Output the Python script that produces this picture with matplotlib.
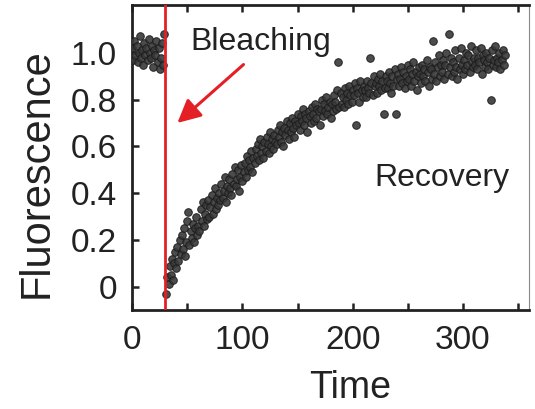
import numpy as np
import matplotlib
matplotlib.use("Agg")
import matplotlib.pyplot as plt

plt.rcParams['font.family'] = ['Liberation Sans', 'DejaVu Sans']

# pre-bleach frames, 1 s apart
prebleach_time = np.arange(0, 30)
prebleach_signal = [
    1.02, 0.97, 1.05, 0.99, 1.03, 0.96, 1.00, 1.07, 0.98, 1.01,
    0.95, 1.04, 0.99, 1.02, 0.97, 1.06, 1.00, 0.98, 1.03, 0.94,
    1.01, 0.99, 1.05, 0.96, 1.02, 0.93, 0.98, 1.04, 0.95, 1.08,
]

# recovery frames after the bleach pulse
recovery_time = np.arange(31, 339)
recovery_signal = [
    -0.03, 0.04, 0.01, 0.09, 0.05, 0.12, 0.03, 0.10, 0.15, 0.08,
    0.17, 0.11, 0.20, 0.14, 0.22, 0.16, 0.25, 0.13, 0.19, 0.28,
    0.32, 0.18, 0.24, 0.21, 0.27, 0.19, 0.25, 0.30, 0.22, 0.26,
    0.24, 0.33, 0.28, 0.36, 0.26, 0.31, 0.35, 0.29, 0.37, 0.30,
    0.34, 0.39, 0.31, 0.36, 0.42, 0.33, 0.38, 0.35, 0.40, 0.37,
    0.44, 0.38, 0.41, 0.47, 0.36, 0.43, 0.40, 0.46, 0.42, 0.39,
    0.48, 0.44, 0.51, 0.43, 0.46, 0.50, 0.41, 0.47, 0.52, 0.45,
    0.49, 0.53, 0.47, 0.56, 0.50, 0.54, 0.51, 0.58, 0.49, 0.55,
    0.53, 0.59, 0.56, 0.61, 0.54, 0.63, 0.57, 0.60, 0.55, 0.62,
    0.58, 0.64, 0.61, 0.57, 0.66, 0.60, 0.63, 0.59, 0.65, 0.62,
    0.61, 0.67, 0.64, 0.69, 0.62, 0.66, 0.60, 0.68, 0.65, 0.71,
    0.67, 0.63, 0.70, 0.66, 0.72, 0.68, 0.64, 0.71, 0.69, 0.74,
    0.70, 0.67, 0.73, 0.71, 0.76, 0.69, 0.74, 0.72, 0.66, 0.75,
    0.73, 0.70, 0.77, 0.74, 0.71, 0.78, 0.72, 0.76, 0.75, 0.69,
    0.76, 0.80, 0.73, 0.78, 0.75, 0.81, 0.74, 0.77, 0.79, 0.72,
    0.78, 0.75, 0.82, 0.79, 0.76, 0.84, 0.96, 0.77, 0.83, 0.78,
    0.81, 0.77, 0.85, 0.80, 0.83, 0.78, 0.86, 0.82, 0.79, 0.84,
    0.82, 0.87, 0.69, 0.85, 0.83, 0.79, 0.88, 0.84, 0.81, 0.86,
    0.84, 0.81, 0.88, 0.85, 0.83, 0.98, 0.87, 0.82, 0.90, 0.86,
    0.87, 0.83, 0.89, 0.86, 0.91, 0.84, 0.88, 0.74, 0.85, 0.90,
    0.88, 0.85, 0.92, 0.87, 0.83, 0.90, 0.86, 0.93, 0.74, 0.89,
    0.91, 0.86, 0.89, 0.94, 0.87, 0.92, 0.85, 0.90, 0.88, 0.95,
    0.89, 0.93, 0.86, 0.91, 0.96, 0.88, 0.92, 0.84, 0.90, 0.94,
    0.91, 0.87, 0.95, 0.90, 0.93, 0.88, 0.97, 0.92, 0.86, 0.94,
    0.93, 0.89, 1.05, 0.91, 0.96, 0.88, 0.94, 0.99, 0.90, 0.95,
    0.92, 0.97, 0.89, 0.95, 1.00, 0.91, 1.08, 0.94, 0.98, 0.90,
    0.96, 0.92, 1.01, 0.94, 0.89, 0.98, 0.93, 1.02, 0.95, 0.91,
    0.97, 0.93, 1.00, 0.95, 0.99, 0.92, 1.03, 0.96, 0.94, 0.98,
    0.95, 1.01, 0.93, 0.98, 0.96, 1.02, 0.91, 0.99, 0.97, 0.94,
    1.00, 0.96, 0.93, 0.98, 0.80, 1.01, 0.95, 0.97, 1.03, 0.94,
    0.98, 0.96, 1.00, 0.93, 0.97, 1.01, 0.95, 0.99,
]

bleach_time = 30
x_ticks = [0, 50, 100, 150, 200, 250, 300, 350]
x_labels = ["0", "", "100", "", "200", "", "300", ""]
y_ticks = [0, 0.2, 0.4, 0.6, 0.8, 1.0]
y_labels = ["0", "0.2", "0.4", "0.6", "0.8", "1.0"]

tick_font = ['Liberation Sans Narrow', 'Liberation Sans', 'DejaVu Sans']
ink = "#222222"

fig = plt.figure(figsize=(5.35, 4.09), dpi=100)
ax = fig.add_axes([0.247, 0.242, 0.742, 0.746])

t = np.concatenate([prebleach_time, recovery_time])
f = np.concatenate([prebleach_signal, recovery_signal])
ax.scatter(t, f, s=30, c="#383838", edgecolors="#1a1a1a", linewidths=0.7,
           alpha=0.9, zorder=3)

ax.axvline(bleach_time, color="#e41f26", lw=2.0, zorder=4)
ax.annotate("", xy=(41, 0.70), xytext=(101, 0.95),
            arrowprops=dict(arrowstyle="-|>,head_length=1.4,head_width=0.7",
                            color="#e41f26", lw=2.2, shrinkA=0, shrinkB=0))
ax.text(53, 1.047, "Bleaching", fontsize=23, color=ink, va="center")
ax.text(281, 0.466, "Recovery", fontsize=23, color=ink, ha="center",
        va="center")

ax.set_xlim(0, 360)
ax.set_ylim(-0.1, 1.205)
ax.set_xticks(x_ticks)
ax.set_xticklabels(x_labels, family=tick_font, fontsize=24)
ax.set_yticks(y_ticks)
ax.set_yticklabels(y_labels, family=tick_font, fontsize=24)
ax.tick_params(direction="in", length=5, width=1.8, colors=ink,
               top=True, right=False)
ax.tick_params(axis="x", pad=11)
ax.tick_params(axis="y", pad=11)

for side in ["left", "bottom", "top"]:
    ax.spines[side].set_linewidth(2.0)
    ax.spines[side].set_color(ink)
ax.spines["right"].set_linewidth(0.8)
ax.spines["right"].set_color("#888888")

ax.set_xlabel("Time", fontsize=27, color=ink)
ax.set_ylabel("Fluorescence", fontsize=30, color=ink)
ax.xaxis.set_label_coords(0.55, -0.195)
ax.yaxis.set_label_coords(-0.19, 0.45)

fig.savefig("out.png", dpi=100)
